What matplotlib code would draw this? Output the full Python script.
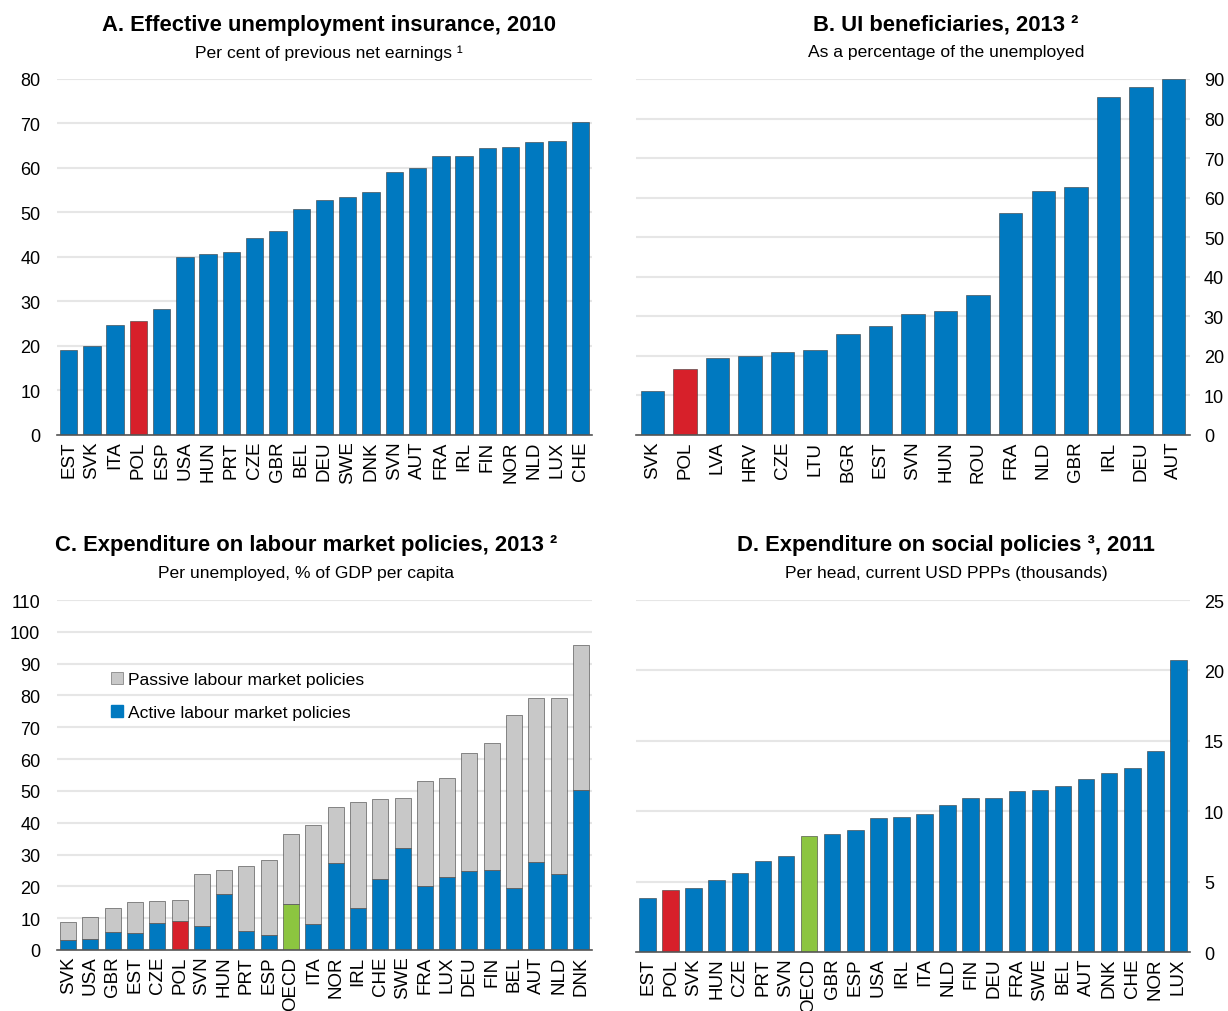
import matplotlib
matplotlib.use('Agg')
import matplotlib.pyplot as plt
from matplotlib.patches import Patch

plt.rcParams['font.family'] = ['Liberation Sans', 'DejaVu Sans']

# Panel A: effective unemployment insurance, 2010
a_countries = ['EST', 'SVK', 'ITA', 'POL', 'ESP', 'USA', 'HUN', 'PRT', 'CZE', 'GBR', 'BEL', 'DEU',
               'SWE', 'DNK', 'SVN', 'AUT', 'FRA', 'IRL', 'FIN', 'NOR', 'NLD', 'LUX', 'CHE']
a_values = [19.2, 19.9, 24.6, 25.6, 28.2, 39.9, 40.7, 41.2, 44.3, 45.8, 50.7, 52.9,
            53.4, 54.5, 59.1, 60.1, 62.6, 62.7, 64.4, 64.7, 65.8, 66.0, 70.3]

# Panel B: UI beneficiaries, 2013
b_countries = ['SVK', 'POL', 'LVA', 'HRV', 'CZE', 'LTU', 'BGR', 'EST', 'SVN', 'HUN', 'ROU',
               'FRA', 'NLD', 'GBR', 'IRL', 'DEU', 'AUT']
b_values = [11.1, 16.7, 19.5, 20.0, 21.1, 21.5, 25.5, 27.5, 30.7, 31.3, 35.5,
            56.2, 61.8, 62.6, 85.4, 87.9, 90.0]

# Panel C: expenditure on labour market policies, 2013
c_countries = ['SVK', 'USA', 'GBR', 'EST', 'CZE', 'POL', 'SVN', 'HUN', 'PRT', 'ESP', 'OECD', 'ITA',
               'NOR', 'IRL', 'CHE', 'SWE', 'FRA', 'LUX', 'DEU', 'FIN', 'BEL', 'AUT', 'NLD', 'DNK']
c_total = [8.7, 10.4, 13.3, 15.1, 15.4, 15.8, 23.8, 25.0, 26.4, 28.4, 36.6, 39.4,
           45.0, 46.4, 47.3, 47.8, 53.0, 54.1, 61.9, 65.1, 74.0, 79.1, 79.3, 96.0]
c_active = [3.0, 3.4, 5.7, 5.2, 8.5, 9.2, 7.4, 17.5, 6.1, 4.8, 14.3, 8.2,
            27.3, 13.2, 22.3, 32.0, 20.2, 23.0, 24.7, 25.1, 19.4, 27.8, 23.8, 50.2]
c_passive = [t - a for t, a in zip(c_total, c_active)]

# Panel D: expenditure on social policies, 2011
d_countries = ['EST', 'POL', 'SVK', 'HUN', 'CZE', 'PRT', 'SVN', 'OECD', 'GBR', 'ESP', 'USA', 'IRL',
               'ITA', 'NLD', 'FIN', 'DEU', 'FRA', 'SWE', 'BEL', 'AUT', 'DNK', 'CHE', 'NOR', 'LUX']
d_values = [3.86, 4.38, 4.56, 5.09, 5.63, 6.43, 6.79, 8.25, 8.35, 8.63, 9.51, 9.58,
            9.79, 10.43, 10.95, 10.97, 11.42, 11.52, 11.80, 12.30, 12.68, 13.06, 14.29, 20.72]

BLUE = '#0079C0'
RED = '#D7202A'
GREEN = '#8CC540'
GREY = '#C8C8C8'
EDGE = '#3a3a3a'
GRID = '#E6E6E6'
FS = 13.5


def bar_colors(countries):
    cols = []
    for c in countries:
        if c == 'POL':
            cols.append(RED)
        elif c == 'OECD':
            cols.append(GREEN)
        else:
            cols.append(BLUE)
    return cols


def style_axis(ax, countries, ymax, step, right=False):
    ax.set_xlim(-0.5, len(countries) - 0.5)
    ax.set_ylim(0, ymax)
    ax.set_yticks(range(0, ymax + 1, step))
    ax.set_xticks(range(len(countries)))
    ax.set_xticklabels(countries, rotation=90, fontsize=FS)
    ax.tick_params(axis='x', length=0, pad=4)
    if right:
        ax.yaxis.tick_right()
        ax.tick_params(axis='y', length=0, labelsize=13, pad=10)
    else:
        ax.tick_params(axis='y', length=0, labelsize=13, pad=12)
    ax.grid(axis='y', color=GRID, linewidth=1.5)
    ax.set_axisbelow(True)
    for s in ['top', 'left', 'right']:
        ax.spines[s].set_visible(False)
    ax.spines['bottom'].set_color('#555555')
    ax.spines['bottom'].set_linewidth(1.2)


fig = plt.figure(figsize=(12.28, 10.12), dpi=100)

axA = fig.add_axes([0.0464, 0.5692, 0.4357, 0.3518])
axA.bar(range(len(a_countries)), a_values, width=0.75, color=bar_colors(a_countries),
        edgecolor=EDGE, linewidth=0.4)
style_axis(axA, a_countries, 80, 10)

axB = fig.add_axes([0.5179, 0.5692, 0.4511, 0.3518])
axB.bar(range(len(b_countries)), b_values, width=0.72, color=bar_colors(b_countries),
        edgecolor=EDGE, linewidth=0.4)
style_axis(axB, b_countries, 90, 10, right=True)

axC = fig.add_axes([0.0464, 0.0603, 0.4357, 0.3458])
xc = range(len(c_countries))
axC.bar(xc, c_active, width=0.72, color=bar_colors(c_countries), edgecolor=EDGE, linewidth=0.4)
axC.bar(xc, c_passive, bottom=c_active, width=0.72, color=GREY, edgecolor=EDGE, linewidth=0.4)
style_axis(axC, c_countries, 110, 10)
handles = [Patch(facecolor=GREY, edgecolor='#888888', linewidth=0.6, label='Passive labour market policies'),
           Patch(facecolor=BLUE, edgecolor=BLUE, label='Active labour market policies')]
axC.legend(handles=handles, loc='upper left', bbox_to_anchor=(0.078, 0.83), frameon=False,
           fontsize=12.6, handlelength=0.7, handleheight=0.7, handletextpad=0.3, labelspacing=1.0,
           borderaxespad=0.3)

axD = fig.add_axes([0.5179, 0.0583, 0.4511, 0.3478])
axD.bar(range(len(d_countries)), d_values, width=0.72, color=bar_colors(d_countries),
        edgecolor=EDGE, linewidth=0.4)
style_axis(axD, d_countries, 25, 5, right=True)

# titles
def panel_title(x, y, title, sub):
    fig.text(x / 1228, 1 - y / 1012, title, ha='center', va='center', fontsize=15.8, fontweight='bold')
    fig.text(x / 1228, 1 - (y + 28) / 1012, sub, ha='center', va='center', fontsize=12.6)

panel_title(329, 25, 'A. Effective unemployment insurance, 2010', 'Per cent of previous net earnings \u00b9')
panel_title(946, 25, 'B. UI beneficiaries, 2013 \u00b2', 'As a percentage of the unemployed')
panel_title(306, 546, 'C. Expenditure on labour market policies, 2013 \u00b2', 'Per unemployed, % of GDP per capita')
panel_title(946, 546, 'D. Expenditure on social policies \u00b3, 2011', 'Per head, current USD PPPs (thousands)')

fig.savefig('out.png', dpi=100)
